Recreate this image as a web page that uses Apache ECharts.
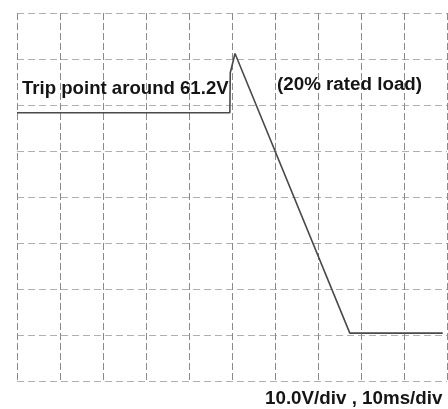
<!DOCTYPE html>
<html>
<head>
<meta charset="utf-8">
<script src="https://cdn.jsdelivr.net/npm/echarts@6/dist/echarts.min.js"></script>
<style>
html,body{margin:0;padding:0;background:#fff;}
#c{width:448px;height:409px;}
</style>
</head>
<body>
<div id="c"></div>
<script>
// Trace (time in ms, voltage in V)
const timeMs = [0, 49.5, 49.6, 50.7, 77.4, 88, 99];
const voltV  = [48.3, 48.3, 57.0, 61.2, 0.4, 0.4, 0.4];
// Scope scale: 10 ms/div horizontally, 10 V/div vertically
const xMin = 0, xMax = 100, xDiv = 10;
const yMin = -10, yMax = 70, yDiv = 10;
const annotTrip = 'Trip point around 61.2V';
const annotLoad = '(20% rated load)';
const annotScale = '10.0V/div , 10ms/div';

const chart = echarts.init(document.getElementById('c'), null, {renderer: 'canvas'});
const font = '"Liberation Sans", Arial, sans-serif';
chart.setOption({
  animation: false,
  backgroundColor: '#ffffff',
  grid: {left: 17, right: 1, top: 13, bottom: 28},
  xAxis: {
    type: 'value', min: xMin, max: xMax, interval: xDiv,
    axisLine: {show: false}, axisTick: {show: false}, axisLabel: {show: false},
    splitLine: {show: true, lineStyle: {color: '#8a8a8a', width: 1, type: [7, 3]}}
  },
  yAxis: {
    type: 'value', min: yMin, max: yMax, interval: yDiv,
    axisLine: {show: false}, axisTick: {show: false}, axisLabel: {show: false},
    splitLine: {show: true, lineStyle: {color: '#b0b0b0', width: 1, type: [7, 4]}}
  },
  series: [{
    type: 'line',
    data: timeMs.map((t, i) => [t, voltV[i]]),
    showSymbol: false,
    lineStyle: {color: '#4a4a4a', width: 1.6},
    z: 5
  }],
  graphic: [
    {type: 'text', left: 22, top: 79, z: 10,
     style: {text: annotTrip, font: 'bold 18.6px ' + font, fill: '#151515'}},
    {type: 'text', left: 277, top: 75, z: 10,
     style: {text: annotLoad, font: 'bold 18.8px ' + font, fill: '#151515'}},
    {type: 'text', left: 265, top: 389, z: 10,
     style: {text: annotScale, font: 'bold 18.8px ' + font, fill: '#151515'}}
  ]
});
</script>
</body>
</html>
